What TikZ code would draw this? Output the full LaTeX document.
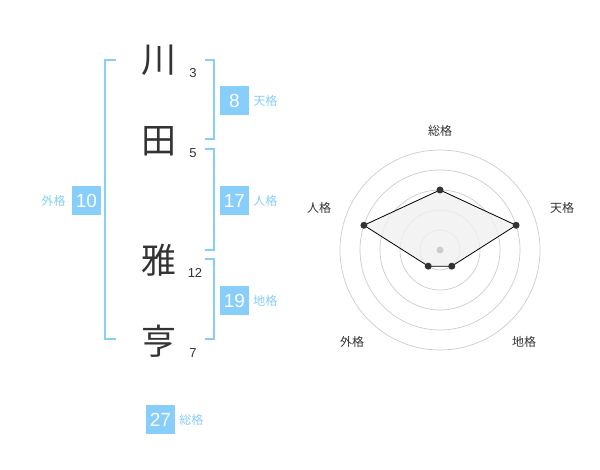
\documentclass[tikz,border=0pt]{standalone}
\usepackage{fontspec}
\setmainfont{Liberation Sans}
\newfontfamily\jp{Noto Sans CJK JP}
\usepackage{tikz}
\usetikzlibrary{positioning}
\definecolor{skyblue}{HTML}{87CEFA}
\definecolor{ink}{HTML}{333333}
\definecolor{ringgray}{HTML}{CCCCCC}
\definecolor{areagray}{HTML}{F0F0F0}
\tikzset{%
    kanji/.style={text=ink, font=\jp\fontsize{35}{35}\selectfont, inner sep=0pt},
    strokes/.style={text=ink, font=\fontsize{13}{13}\selectfont, inner sep=0pt},
    numbox/.style={fill=skyblue, text=white, minimum size=29pt, inner sep=0pt,
        font=\fontsize{19}{19}\selectfont},
    kaku/.style={text=skyblue, font=\jp\fontsize{12}{12}\selectfont, inner sep=0pt},
    axis/.style={text=ink, font=\jp\fontsize{12}{12}\selectfont, inner sep=0pt},
    bracket/.style={draw=skyblue, line width=2pt}
}

\begin{document}
\begin{tikzpicture}[x=1pt,y=-1pt]
    \useasboundingbox (0,0) rectangle (600,470);
    % name and stroke counts
    \node[kanji] (k1) at (159,60) {川};
    \node[kanji] (k2) at (159,141) {田};
    \node[kanji] (k3) at (159,260) {雅};
    \node[kanji] (k4) at (159,341) {亨};
    \node[strokes] (s1) at (193,73) {3};
    \node[strokes] (s2) at (193,153) {5};
    \node[strokes] (s3) at (195,273) {12};
    \node[strokes] (s4) at (193,353) {7};
    % brackets
    \draw[bracket] (116,60)--(105,60)--(105,339)--(116,339);
    \draw[bracket] (205,60)--(214,60)--(214,139)--(205,139);
    \draw[bracket] (205,149)--(214,149)--(214,250)--(205,250);
    \draw[bracket] (205,259)--(214,259)--(214,339)--(205,339);
    % kaku values
    \node[numbox] (ten) at (234.5,100.5) {8};
    \node[kaku, right=4pt of ten] {天格};
    \node[numbox] (jin) at (234.5,200.5) {17};
    \node[kaku, right=4pt of jin] {人格};
    \node[numbox] (chi) at (234.5,300.5) {19};
    \node[kaku, right=4pt of chi] {地格};
    \node[numbox] (gai) at (86.5,200.5) {10};
    \node[kaku, left=6pt of gai] {外格};
    \node[numbox] (sou) at (160.5,419.5) {27};
    \node[kaku, right=4pt of sou] {総格};
    % radar chart
    \begin{scope}[shift={(440,250)}]
        \foreach \r in {20,40,...,100}
            \draw[ringgray, line width=0.7pt] (0,0) circle (\r);
        \coordinate (p1) at (-90:60);
        \coordinate (p2) at (-18:80);
        \coordinate (p3) at (54:20);
        \coordinate (p4) at (126:20);
        \coordinate (p5) at (198:80);
        \fill[areagray, opacity=0.8] (p1)--(p2)--(p3)--(p4)--(p5)--cycle;
        \draw[black, line width=0.8pt] (p1)--(p2)--(p3)--(p4)--(p5)--cycle;
        \fill[ringgray] (0,0) circle (3.5);
        \foreach \p in {p1,p2,p3,p4,p5}
            \fill[ink] (\p) circle (3.5);
        \node[axis] (a1) at (0,-119) {総格};
        \node[axis] (a2) at (122,-42) {天格};
        \node[axis] (a3) at (84,92) {地格};
        \node[axis] (a4) at (-88,92) {外格};
        \node[axis] (a5) at (-121,-42) {人格};
    \end{scope}
\end{tikzpicture}
\end{document}
